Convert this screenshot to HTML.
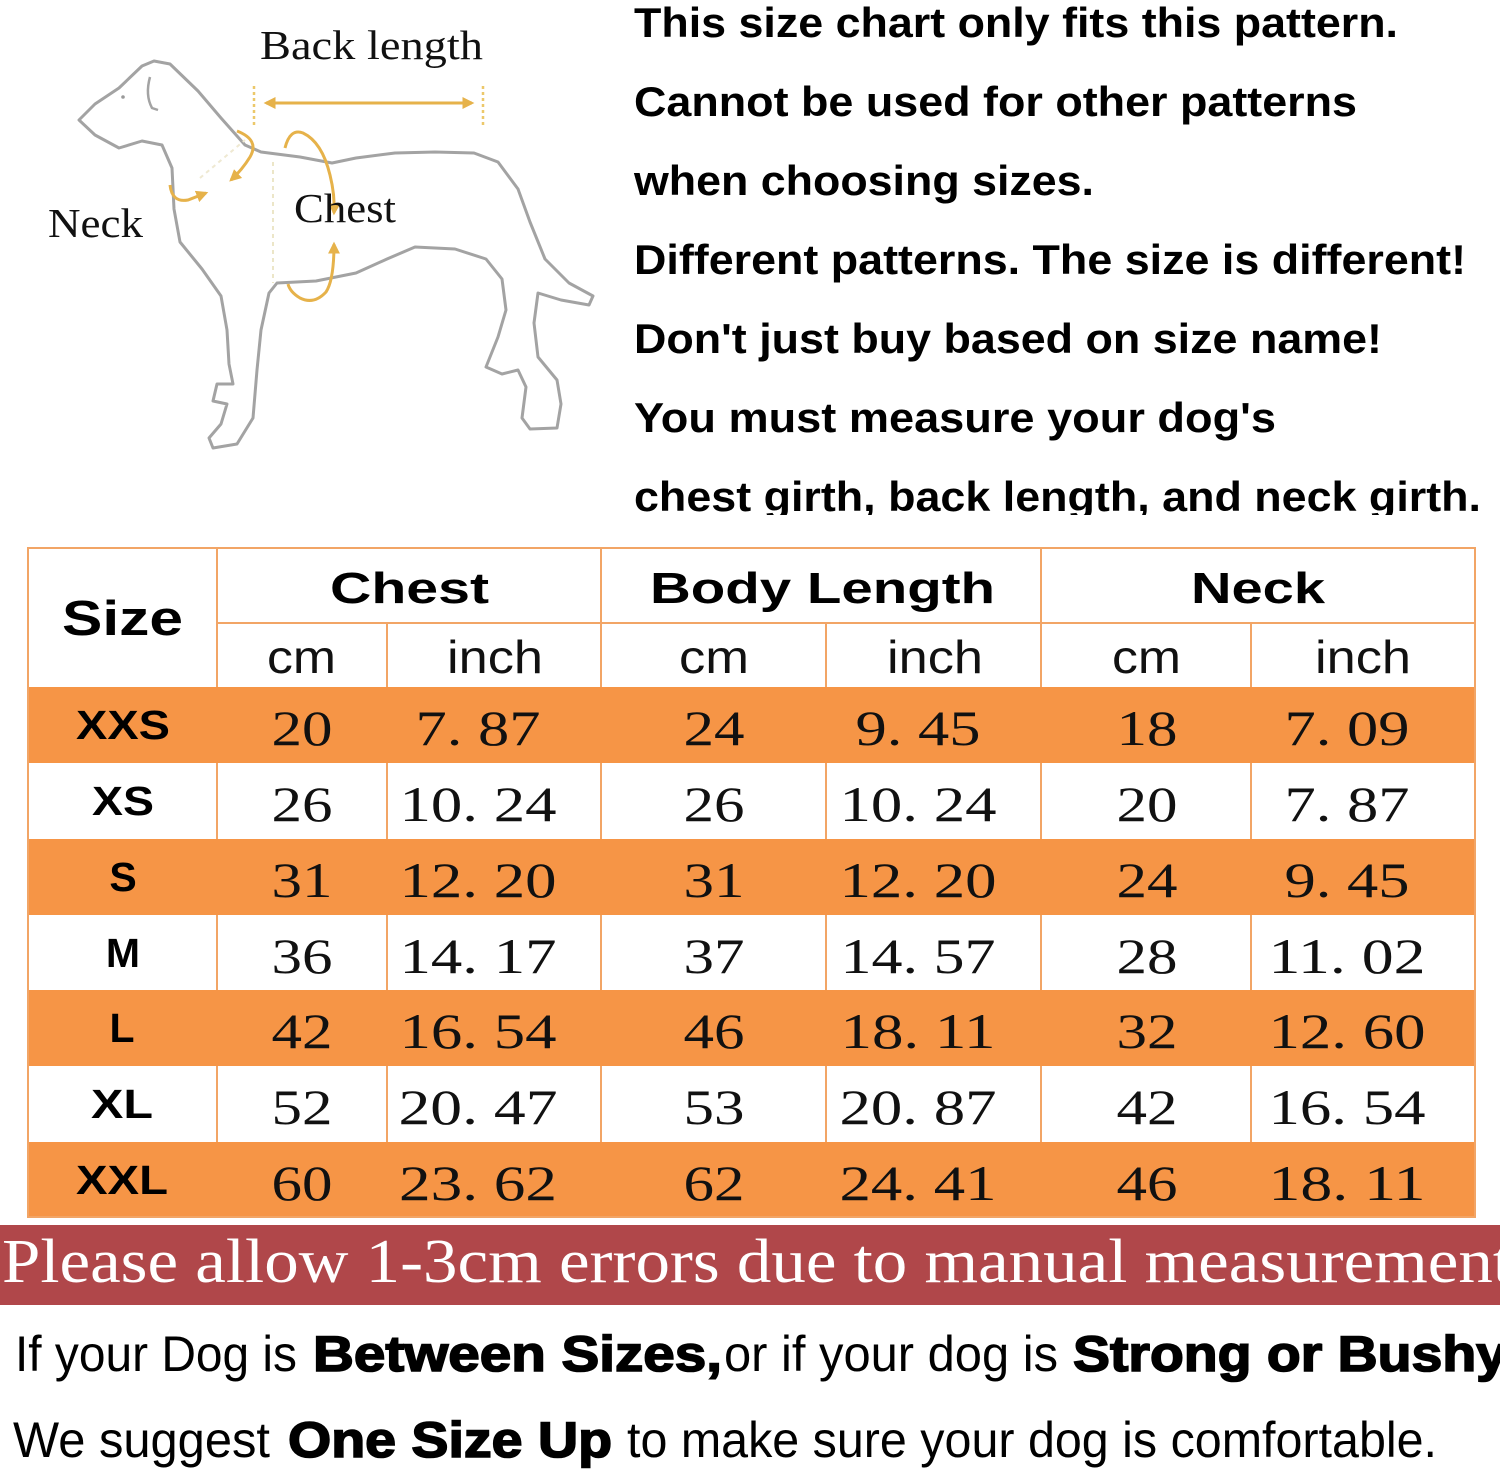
<!DOCTYPE html>
<html>
<head>
<meta charset="utf-8">
<style>
html,body{margin:0;padding:0;background:#fff;}
svg{display:block;}
.hd{font-family:"Liberation Sans",Arial,sans-serif;font-weight:bold;fill:#000;}
.sub{font-family:"Liberation Sans",Arial,sans-serif;fill:#111;}
.num{font-family:"Liberation Serif","Times New Roman",serif;fill:#111;}
.top{font-family:"Liberation Sans Narrow","Liberation Sans",Arial,sans-serif;font-weight:bold;fill:#000;font-size:42px;}
.lbl{font-family:"Liberation Serif","Times New Roman",serif;fill:#111;}
.reg{font-family:"Liberation Sans",Arial,sans-serif;fill:#000;font-size:50px;}
.blk{font-family:"Liberation Sans",Arial,sans-serif;font-weight:bold;fill:#000;stroke:#000;stroke-width:1.6px;font-size:50px;}
</style>
</head>
<body>
<svg width="1500" height="1474" viewBox="0 0 1500 1474" xmlns="http://www.w3.org/2000/svg">
<defs>
<clipPath id="c"><rect x="600" y="0" width="900" height="515"/></clipPath>
<marker id="ah" viewBox="0 0 10 10" refX="8" refY="5" markerWidth="4" markerHeight="4" orient="auto-start-reverse">
<path d="M0,0 L10,5 L0,10 z" fill="#e6b24a"/>
</marker>
</defs>
<rect x="0" y="0" width="1500" height="1474" fill="#fff"/>

<!-- Dog outline -->
<path d="M79,120 L95,135 L119,148 L142,141 L162,145 L172,168 L174,209 L180,242 L202,269 L221,296 L227,330 L229,364 L233,384 L217,384 L213,401 L227,404 L221,424 L209,438 L213,448 L237,444 L253,418 L257,370 L261,330 L269,293 L277,283 L316,281 L356,273 L387,259 L415,247 L455,249 L486,259 L502,279 L506,310 L498,337 L490,357 L486,367 L502,374 L518,370 L526,387 L522,418 L530,429 L557,428 L561,404 L557,380 L538,357 L534,323 L538,293 L561,300 L589,305 L593,296 L569,283 L545,259 L530,222 L518,189 L498,162 L474,153 L435,152 L395,153 L356,158 L332,163 L300,157 L261,152 L245,145 L221,118 L198,91 L170,64 L154,61 L142,66 L119,88 L95,104 Z" fill="none" stroke="#a3a3a3" stroke-width="3" stroke-linejoin="round"/>
<path d="M150,77 Q145,95 152,108 L158,110" fill="none" stroke="#a3a3a3" stroke-width="2.5"/>
<circle cx="123" cy="97" r="1.8" fill="#999"/>

<!-- measurement annotations -->
<line x1="254" y1="86" x2="254" y2="128" stroke="#ecc86a" stroke-width="2.5" stroke-dasharray="3,3"/>
<line x1="483" y1="86" x2="483" y2="128" stroke="#ecc86a" stroke-width="2.5" stroke-dasharray="3,3"/>
<line x1="266" y1="103" x2="472" y2="103" stroke="#e6b24a" stroke-width="3" marker-start="url(#ah)" marker-end="url(#ah)"/>
<line x1="273" y1="162" x2="273" y2="283" stroke="#ece6c8" stroke-width="2" stroke-dasharray="4,4"/>
<line x1="200" y1="178" x2="245" y2="140" stroke="#efe9d2" stroke-width="2" stroke-dasharray="4,4"/>
<path d="M237,131 Q260,140 250,157 Q242,170 231,180" fill="none" stroke="#e6b24a" stroke-width="3" marker-end="url(#ah)"/>
<path d="M170,185 Q172,203 188,200 L206,193" fill="none" stroke="#e6b24a" stroke-width="3" marker-end="url(#ah)"/>
<path d="M285,148 Q290,128 303,133 Q322,142 330,175 Q335,195 334,213" fill="none" stroke="#e6b24a" stroke-width="3" marker-end="url(#ah)"/>
<path d="M334,244 Q334,280 326,292 Q314,305 300,298 Q290,292 288,284" fill="none" stroke="#e6b24a" stroke-width="3" marker-start="url(#ah)"/>

<text class="lbl" x="260" y="59" font-size="41" textLength="223" lengthAdjust="spacingAndGlyphs">Back length</text>
<text class="lbl" x="48" y="237" font-size="41" textLength="95" lengthAdjust="spacingAndGlyphs">Neck</text>
<text class="lbl" x="294" y="222" font-size="41" textLength="102" lengthAdjust="spacingAndGlyphs">Chest</text>

<!-- Right text -->
<g clip-path="url(#c)">
<text class="top" x="634" y="37" textLength="764" lengthAdjust="spacingAndGlyphs">This size chart only fits this pattern.</text>
<text class="top" x="634" y="116" textLength="723" lengthAdjust="spacingAndGlyphs">Cannot be used for other patterns</text>
<text class="top" x="634" y="195" textLength="460" lengthAdjust="spacingAndGlyphs">when choosing sizes.</text>
<text class="top" x="634" y="274" textLength="832" lengthAdjust="spacingAndGlyphs">Different patterns. The size is different!</text>
<text class="top" x="634" y="353" textLength="748" lengthAdjust="spacingAndGlyphs">Don't just buy based on size name!</text>
<text class="top" x="634" y="432" textLength="642" lengthAdjust="spacingAndGlyphs">You must measure your dog's</text>
<text class="top" x="634" y="511" textLength="847" lengthAdjust="spacingAndGlyphs">chest girth, back length, and neck girth.</text>
</g>

<!-- Table -->
<g>
<rect x="28" y="548" width="1447" height="669" fill="#fff"/>
<!-- orange rows -->
<rect x="28" y="687" width="1447" height="76" fill="#f69546"/>
<rect x="28" y="839" width="1447" height="76" fill="#f69546"/>
<rect x="28" y="990" width="1447" height="76" fill="#f69546"/>
<rect x="28" y="1142" width="1447" height="75" fill="#f69546"/>
<g stroke="#f2a566" stroke-width="2" fill="none">
<rect x="28" y="548" width="1447" height="669"/>
<line x1="217" y1="623" x2="1475" y2="623"/>
<line x1="217" y1="548" x2="217" y2="687"/>
<line x1="601" y1="548" x2="601" y2="687"/>
<line x1="1041" y1="548" x2="1041" y2="687"/>
<line x1="387" y1="623" x2="387" y2="687"/>
<line x1="826" y1="623" x2="826" y2="687"/>
<line x1="1251" y1="623" x2="1251" y2="687"/>
<!-- white row verticals -->
<path d="M217,763 V839 M387,763 V839 M601,763 V839 M826,763 V839 M1041,763 V839 M1251,763 V839"/>
<path d="M217,915 V990 M387,915 V990 M601,915 V990 M826,915 V990 M1041,915 V990 M1251,915 V990"/>
<path d="M217,1066 V1142 M387,1066 V1142 M601,1066 V1142 M826,1066 V1142 M1041,1066 V1142 M1251,1066 V1142"/>
</g>

<!-- headers -->
<text class="hd" x="62" y="635" font-size="49" textLength="121" lengthAdjust="spacingAndGlyphs">Size</text>
<text class="hd" x="330" y="603" font-size="44" textLength="159" lengthAdjust="spacingAndGlyphs">Chest</text>
<text class="hd" x="650" y="603" font-size="44" textLength="345" lengthAdjust="spacingAndGlyphs">Body Length</text>
<text class="hd" x="1191" y="603" font-size="44" textLength="134" lengthAdjust="spacingAndGlyphs">Neck</text>

<text class="sub" x="267" y="673" font-size="46" textLength="69" lengthAdjust="spacingAndGlyphs">cm</text>
<text class="sub" x="447" y="673" font-size="46" textLength="96" lengthAdjust="spacingAndGlyphs">inch</text>
<text class="sub" x="679" y="673" font-size="46" textLength="70" lengthAdjust="spacingAndGlyphs">cm</text>
<text class="sub" x="887" y="673" font-size="46" textLength="96" lengthAdjust="spacingAndGlyphs">inch</text>
<text class="sub" x="1112" y="673" font-size="46" textLength="69" lengthAdjust="spacingAndGlyphs">cm</text>
<text class="sub" x="1315" y="673" font-size="46" textLength="96" lengthAdjust="spacingAndGlyphs">inch</text>

<!-- size labels -->
<g class="hd" font-size="41" text-anchor="middle">
<text x="123" y="739" textLength="94" lengthAdjust="spacingAndGlyphs">XXS</text>
<text x="123" y="815" textLength="62" lengthAdjust="spacingAndGlyphs">XS</text>
<text x="123" y="891">S</text>
<text x="123" y="967">M</text>
<text x="122" y="1042">L</text>
<text x="122" y="1118" textLength="62" lengthAdjust="spacingAndGlyphs">XL</text>
<text x="122" y="1194" textLength="92" lengthAdjust="spacingAndGlyphs">XXL</text>
</g>

<!-- numbers -->
<g class="num" font-size="50" text-anchor="middle">
<text x="302" y="745" textLength="61" lengthAdjust="spacingAndGlyphs">20</text>
<text x="478" y="745" textLength="125" lengthAdjust="spacingAndGlyphs">7. 87</text>
<text x="714" y="745" textLength="61" lengthAdjust="spacingAndGlyphs">24</text>
<text x="918" y="745" textLength="125" lengthAdjust="spacingAndGlyphs">9. 45</text>
<text x="1147" y="745" textLength="61" lengthAdjust="spacingAndGlyphs">18</text>
<text x="1347" y="745" textLength="125" lengthAdjust="spacingAndGlyphs">7. 09</text>

<text x="302" y="821" textLength="61" lengthAdjust="spacingAndGlyphs">26</text>
<text x="478" y="821" textLength="157" lengthAdjust="spacingAndGlyphs">10. 24</text>
<text x="714" y="821" textLength="61" lengthAdjust="spacingAndGlyphs">26</text>
<text x="918" y="821" textLength="157" lengthAdjust="spacingAndGlyphs">10. 24</text>
<text x="1147" y="821" textLength="61" lengthAdjust="spacingAndGlyphs">20</text>
<text x="1347" y="821" textLength="125" lengthAdjust="spacingAndGlyphs">7. 87</text>

<text x="302" y="897" textLength="61" lengthAdjust="spacingAndGlyphs">31</text>
<text x="478" y="897" textLength="157" lengthAdjust="spacingAndGlyphs">12. 20</text>
<text x="714" y="897" textLength="61" lengthAdjust="spacingAndGlyphs">31</text>
<text x="918" y="897" textLength="157" lengthAdjust="spacingAndGlyphs">12. 20</text>
<text x="1147" y="897" textLength="61" lengthAdjust="spacingAndGlyphs">24</text>
<text x="1347" y="897" textLength="125" lengthAdjust="spacingAndGlyphs">9. 45</text>

<text x="302" y="973" textLength="61" lengthAdjust="spacingAndGlyphs">36</text>
<text x="478" y="973" textLength="157" lengthAdjust="spacingAndGlyphs">14. 17</text>
<text x="714" y="973" textLength="61" lengthAdjust="spacingAndGlyphs">37</text>
<text x="918" y="973" textLength="155" lengthAdjust="spacingAndGlyphs">14. 57</text>
<text x="1147" y="973" textLength="61" lengthAdjust="spacingAndGlyphs">28</text>
<text x="1347" y="973" textLength="157" lengthAdjust="spacingAndGlyphs">11. 02</text>

<text x="302" y="1048" textLength="61" lengthAdjust="spacingAndGlyphs">42</text>
<text x="478" y="1048" textLength="157" lengthAdjust="spacingAndGlyphs">16. 54</text>
<text x="714" y="1048" textLength="61" lengthAdjust="spacingAndGlyphs">46</text>
<text x="918" y="1048" textLength="155" lengthAdjust="spacingAndGlyphs">18. 11</text>
<text x="1147" y="1048" textLength="61" lengthAdjust="spacingAndGlyphs">32</text>
<text x="1347" y="1048" textLength="157" lengthAdjust="spacingAndGlyphs">12. 60</text>

<text x="302" y="1124" textLength="61" lengthAdjust="spacingAndGlyphs">52</text>
<text x="478" y="1124" textLength="159" lengthAdjust="spacingAndGlyphs">20. 47</text>
<text x="714" y="1124" textLength="61" lengthAdjust="spacingAndGlyphs">53</text>
<text x="918" y="1124" textLength="157" lengthAdjust="spacingAndGlyphs">20. 87</text>
<text x="1147" y="1124" textLength="61" lengthAdjust="spacingAndGlyphs">42</text>
<text x="1347" y="1124" textLength="157" lengthAdjust="spacingAndGlyphs">16. 54</text>

<text x="302" y="1200" textLength="61" lengthAdjust="spacingAndGlyphs">60</text>
<text x="478" y="1200" textLength="158" lengthAdjust="spacingAndGlyphs">23. 62</text>
<text x="714" y="1200" textLength="61" lengthAdjust="spacingAndGlyphs">62</text>
<text x="918" y="1200" textLength="157" lengthAdjust="spacingAndGlyphs">24. 41</text>
<text x="1147" y="1200" textLength="61" lengthAdjust="spacingAndGlyphs">46</text>
<text x="1347" y="1200" textLength="157" lengthAdjust="spacingAndGlyphs">18. 11</text>
</g>
</g>

<!-- Red banner -->
<rect x="0" y="1225" width="1500" height="80" fill="#b0474a"/>
<text x="2" y="1282" font-family="'Liberation Serif','Times New Roman',serif" font-size="62" fill="#fff" textLength="1510" lengthAdjust="spacingAndGlyphs">Please allow 1-3cm errors due to manual measurement</text>

<!-- Bottom text -->
<text class="reg" x="15" y="1371" textLength="282" lengthAdjust="spacingAndGlyphs">If your Dog is</text>
<text class="blk" x="313" y="1371" textLength="409" lengthAdjust="spacingAndGlyphs">Between Sizes,</text>
<text class="reg" x="724" y="1371" textLength="334" lengthAdjust="spacingAndGlyphs">or if your dog is</text>
<text class="blk" x="1073" y="1371" textLength="434" lengthAdjust="spacingAndGlyphs">Strong or Bushy</text>

<text class="reg" x="13" y="1457" textLength="257" lengthAdjust="spacingAndGlyphs">We suggest</text>
<text class="blk" x="288" y="1457" textLength="324" lengthAdjust="spacingAndGlyphs">One Size Up</text>
<text class="reg" x="627" y="1457" textLength="810" lengthAdjust="spacingAndGlyphs">to make sure your dog is comfortable.</text>
</svg>
</body>
</html>
